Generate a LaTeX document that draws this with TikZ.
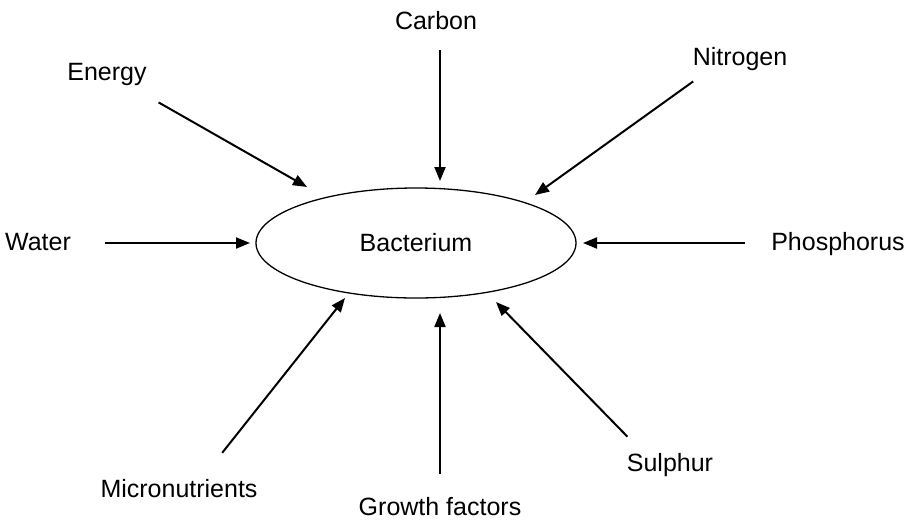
\documentclass[tikz,border=0pt]{standalone}
\usepackage{fontspec}
\setmainfont{Liberation Sans}
\usetikzlibrary{arrows.meta, shapes.geometric}
\tikzset{
  cell/.style     = {ellipse, draw, line width=0.65pt, minimum width=160pt,
                     minimum height=55pt, inner sep=0pt},
  nutrient/.style = {inner sep=0pt, text height=0.716em, text depth=0pt},
  feed/.style     = {-{Triangle[length=7pt, width=5.5pt]}, line width=1pt},
}
\begin{document}
\begin{tikzpicture}[x=0.5pt, y=-0.5pt, font=\fontsize{12.5}{15}\selectfont]
  \useasboundingbox (0,0) rectangle (906,521);
  \node[cell] (bact) at (416,243) {Bacterium};
  % nutrient labels round the cell
  \node[nutrient] (energy)  at (107,73)  {Energy};
  \node[nutrient] (carbon)  at (436,22)  {Carbon};
  \node[nutrient] (nitro)   at (740,58)  {Nitrogen};
  \node[nutrient] (water)   at (38,243)  {Water};
  \node[nutrient] (phos)    at (838,243) {Phosphorus};
  \node[nutrient] (micro)   at (179,490) {Micronutrients};
  \node[nutrient] (growth)  at (440,508) {Growth factors};
  \node[nutrient] (sulphur) at (670,464) {Sulphur};
  % arrow tips near the cell
  \coordinate (energy-tip)  at (307,187);
  \coordinate (carbon-tip)  at (440,181);
  \coordinate (nitro-tip)   at (535,195);
  \coordinate (water-tip)   at (250,243);
  \coordinate (phos-tip)    at (583,243);
  \coordinate (micro-tip)   at (345,298);
  \coordinate (growth-tip)  at (440,313);
  \coordinate (sulphur-tip) at (496,302);
  % feeding arrows
  \draw[feed, shorten <=29.7pt] (energy.center) -- (energy-tip);
  \draw[feed, shorten <=14pt] (carbon-tip |- carbon.center) -- (carbon-tip);
  \draw[feed, shorten <=13.6pt] (nitro.197) -- (nitro-tip);
  \draw[feed, shorten <=33.5pt] (water.center) -- (water-tip);
  \draw[feed, shorten <=46.5pt] (phos.center) -- (phos-tip);
  \draw[feed, shorten <=18.9pt] (micro.21) -- (micro-tip);
  \draw[feed, shorten <=17pt] (growth-tip |- growth.center) -- (growth-tip);
  \draw[feed, shorten <=13.8pt] (sulphur.162) -- (sulphur-tip);
\end{tikzpicture}
\end{document}
